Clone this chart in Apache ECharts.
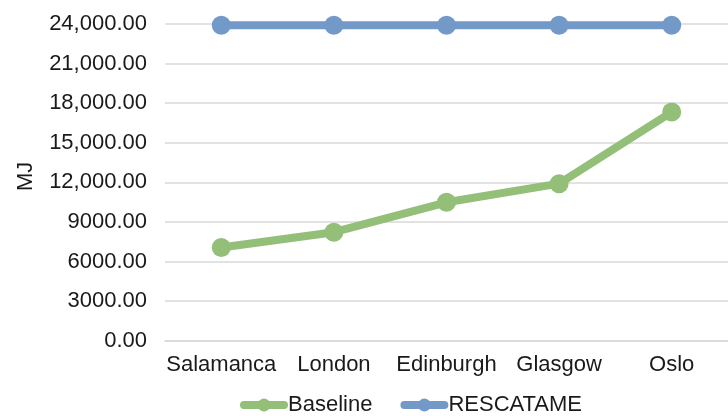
<!DOCTYPE html>
<html>
<head>
<meta charset="utf-8">
<style>
  html, body { margin: 0; padding: 0; background: #fff; }
  #chart { width: 728px; height: 416px; }
</style>
<script src="https://cdn.jsdelivr.net/npm/echarts@6/dist/echarts.min.js"></script>
</head>
<body>
<div id="chart"></div>
<script>
// Energy use per city, in MJ
const cities = ['Salamanca', 'London', 'Edinburgh', 'Glasgow', 'Oslo'];
const baseline = [7060, 8220, 10490, 11900, 17330];
const rescatame = [23900, 23900, 23900, 23900, 23900];
const yTicks = [0, 3000, 6000, 9000, 12000, 15000, 18000, 21000, 24000];

const FONT = 'Liberation Sans, Arial, sans-serif';
const GREEN = '#93bf79';
const BLUE = '#7399c9';
const TEXT = '#1a1a1a';

// Thousands separator only from five digits up, always two decimals
function fmt(v) {
  const s = v.toFixed(2);
  if (Math.abs(v) < 10000) return s;
  const [i, d] = s.split('.');
  return i.replace(/\B(?=(\d{3})+(?!\d))/g, ',') + '.' + d;
}

const chart = echarts.init(document.getElementById('chart'), null, { renderer: 'canvas' });
chart.setOption({
  animation: false,
  textStyle: { fontFamily: FONT },
  grid: { left: 165, top: 24, width: 574, height: 316.7, containLabel: false },
  legend: {
    left: 235,
    top: 389,
    itemWidth: 40,
    itemHeight: 16,
    itemGap: 28,
    textStyle: { fontFamily: FONT, fontSize: 22, color: TEXT, padding: [0, 0, 0, -1] },
    data: [
      { name: 'Baseline', lineStyle: { width: 8, color: GREEN, cap: 'round' }, itemStyle: { color: GREEN } },
      { name: 'RESCATAME', lineStyle: { width: 8, color: BLUE, cap: 'round' }, itemStyle: { color: BLUE } }
    ]
  },
  xAxis: {
    type: 'category',
    data: cities,
    boundaryGap: true,
    axisLine: { show: true, lineStyle: { color: '#d9d9d9', width: 1.5 } },
    axisTick: { show: false },
    axisLabel: { interval: 0, fontFamily: FONT, fontSize: 22, color: TEXT, margin: 13 }
  },
  yAxis: {
    type: 'value',
    min: yTicks[0],
    max: yTicks[yTicks.length - 1],
    interval: yTicks[1] - yTicks[0],
    name: 'MJ',
    nameLocation: 'middle',
    nameGap: 128,
    nameTextStyle: { fontFamily: FONT, fontSize: 22, color: TEXT, padding: [0, 0, 0, 12] },
    axisLine: { show: false },
    axisTick: { show: false },
    splitLine: { lineStyle: { color: '#d9d9d9', width: 1.5 } },
    axisLabel: { fontFamily: FONT, fontSize: 22, color: TEXT, margin: 18, formatter: fmt }
  },
  series: [
    {
      name: 'Baseline',
      type: 'line',
      data: baseline,
      symbol: 'circle',
      symbolSize: 19,
      lineStyle: { color: GREEN, width: 8 },
      itemStyle: { color: GREEN }
    },
    {
      name: 'RESCATAME',
      type: 'line',
      data: rescatame,
      symbol: 'circle',
      symbolSize: 19,
      lineStyle: { color: BLUE, width: 8 },
      itemStyle: { color: BLUE }
    }
  ]
});
</script>
</body>
</html>
